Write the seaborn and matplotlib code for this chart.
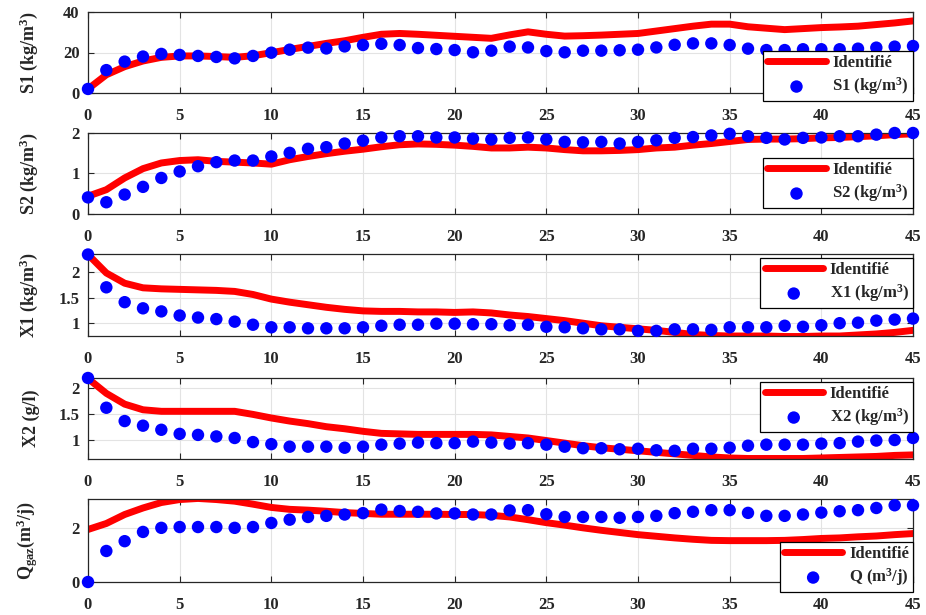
import numpy as np
import pandas as pd
import matplotlib
matplotlib.use("Agg")
import matplotlib.pyplot as plt
import seaborn as sns

t = list(range(46))

s1_ident = [2, 9, 13, 15.8, 17.6, 18.3, 18.3, 18, 17.6, 18.4, 19.9, 21.5, 23, 24.5, 25.8, 27.5,
            29, 29.4, 29, 28.5, 28, 27.5, 27, 28.7, 30.2, 29, 28.1, 28.3, 28.6, 29, 29.4, 30.6,
            31.8, 33, 34, 34, 32.7, 32, 31.3, 31.8, 32.3, 32.6, 33, 33.8, 34.6, 35.6]
s1_meas = [2, 11.3, 15.5, 18, 19.3, 18.8, 18.3, 17.8, 17.1, 18.3, 19.9, 21.4, 22.4, 22, 23, 23.7,
           24.3, 23.7, 22.2, 21.7, 21.2, 20.1, 20.9, 22.9, 22.5, 20.7, 20.1, 20.9, 20.9, 21.1, 21.4,
           22.5, 23.8, 24.5, 24.5, 23.7, 21.9, 21.2, 21.2, 21.6, 21.6, 21.6, 21.9, 22.4, 22.9, 23.2]

s2_ident = [0.44, 0.6, 0.89, 1.12, 1.26, 1.32, 1.34, 1.3, 1.28, 1.26, 1.23, 1.34, 1.42, 1.49, 1.55,
            1.6, 1.66, 1.71, 1.73, 1.72, 1.7, 1.67, 1.63, 1.63, 1.65, 1.63, 1.59, 1.56, 1.56, 1.57,
            1.59, 1.63, 1.65, 1.7, 1.74, 1.79, 1.84, 1.85, 1.85, 1.86, 1.88, 1.89, 1.91, 1.93, 1.96, 1.98]
s2_meas = [0.41, 0.29, 0.48, 0.67, 0.89, 1.05, 1.18, 1.28, 1.32, 1.32, 1.42, 1.51, 1.61, 1.65, 1.74,
           1.81, 1.89, 1.92, 1.92, 1.89, 1.89, 1.86, 1.84, 1.88, 1.89, 1.84, 1.78, 1.77, 1.78, 1.74,
           1.78, 1.82, 1.88, 1.9, 1.94, 1.98, 1.92, 1.88, 1.84, 1.88, 1.89, 1.92, 1.92, 1.96, 2.0, 2.0]

x1_ident = [2.34, 1.98, 1.78, 1.69, 1.67, 1.66, 1.65, 1.64, 1.62, 1.56, 1.47, 1.41, 1.36, 1.31, 1.27,
            1.24, 1.23, 1.23, 1.22, 1.22, 1.21, 1.22, 1.2, 1.16, 1.13, 1.09, 1.05, 1.0, 0.95, 0.92,
            0.89, 0.86, 0.82, 0.78, 0.76, 0.75, 0.75, 0.75, 0.74, 0.74, 0.75, 0.75, 0.77, 0.79, 0.82, 0.86]
x1_meas = [2.34, 1.7, 1.41, 1.29, 1.23, 1.15, 1.11, 1.08, 1.03, 0.97, 0.92, 0.92, 0.9, 0.9, 0.9,
           0.92, 0.95, 0.97, 0.97, 0.99, 0.99, 0.98, 0.98, 0.96, 0.97, 0.93, 0.92, 0.9, 0.88, 0.88,
           0.85, 0.85, 0.88, 0.88, 0.87, 0.92, 0.92, 0.92, 0.95, 0.93, 0.96, 1.0, 1.01, 1.05, 1.07, 1.09]

x2_ident = [2.19, 1.9, 1.69, 1.58, 1.55, 1.55, 1.55, 1.55, 1.55, 1.49, 1.42, 1.36, 1.31, 1.25, 1.21,
            1.16, 1.12, 1.11, 1.1, 1.1, 1.1, 1.1, 1.09, 1.06, 1.03, 0.98, 0.93, 0.88, 0.84, 0.81,
            0.78, 0.75, 0.72, 0.69, 0.66, 0.64, 0.63, 0.63, 0.63, 0.63, 0.64, 0.65, 0.66, 0.67, 0.69, 0.7]
x2_meas = [2.2, 1.62, 1.36, 1.27, 1.19, 1.11, 1.09, 1.06, 1.03, 0.95, 0.91, 0.86, 0.86, 0.86, 0.84,
           0.86, 0.9, 0.92, 0.94, 0.93, 0.93, 0.96, 0.94, 0.92, 0.93, 0.9, 0.86, 0.83, 0.83, 0.81,
           0.82, 0.79, 0.78, 0.82, 0.82, 0.84, 0.88, 0.9, 0.9, 0.9, 0.92, 0.93, 0.96, 0.98, 0.99, 1.03]

q_ident = [1.93, 2.15, 2.48, 2.72, 2.92, 3.03, 3.07, 3.03, 2.97, 2.86, 2.74, 2.67, 2.64, 2.6, 2.55,
           2.52, 2.49, 2.49, 2.49, 2.49, 2.48, 2.48, 2.45, 2.39, 2.29, 2.18, 2.09, 1.99, 1.9, 1.82,
           1.74, 1.68, 1.62, 1.57, 1.53, 1.52, 1.52, 1.52, 1.53, 1.56, 1.6, 1.62, 1.66, 1.69, 1.74, 1.78]
q_meas = [0, 1.14, 1.5, 1.84, 1.99, 2.02, 2.02, 2.02, 1.99, 2.02, 2.17, 2.29, 2.39, 2.43, 2.48,
          2.53, 2.66, 2.61, 2.58, 2.52, 2.52, 2.48, 2.48, 2.63, 2.64, 2.49, 2.39, 2.39, 2.39, 2.36,
          2.39, 2.43, 2.53, 2.58, 2.64, 2.64, 2.54, 2.43, 2.43, 2.48, 2.55, 2.6, 2.64, 2.72, 2.82, 2.82]

ylabels = [r"S1 (kg/m$^{3}$)", r"S2 (kg/m$^{3}$)", r"X1 (kg/m$^{3}$)", r"X2 (g/l)",
           r"Q$_{\mathrm{gaz}}$(m$^{3}$/j)"]
meas_labels = [r"S1 (kg/m$^{3}$)", r"S2 (kg/m$^{3}$)", r"X1 (kg/m$^{3}$)", r"X2 (kg/m$^{3}$)",
               r"Q (m$^{3}$/j)"]
ident_label = "Identifié"
xticks = [0, 5, 10, 15, 20, 25, 30, 35, 40, 45]
yticks = [[0, 20, 40], [0, 1, 2], [1, 1.5, 2], [1, 1.5, 2], [0, 2]]
yticklabels = [["0", "20", "40"], ["0", "1", "2"], ["1", "1.5", "2"], ["1", "1.5", "2"], ["0", "2"]]
ylims = [(0, 40), (0, 2), (0.75, 2.35), (0.62, 2.2), (0, 3.05)]

sns.set_style("ticks")
plt.rcParams["font.family"] = ["Liberation Serif", "DejaVu Serif"]
plt.rcParams["font.weight"] = "bold"
plt.rcParams["mathtext.fontset"] = "custom"
plt.rcParams["mathtext.rm"] = "Liberation Serif:bold"
plt.rcParams["mathtext.bf"] = "Liberation Serif:bold"
plt.rcParams["mathtext.it"] = "Liberation Serif:bold"
plt.rcParams["mathtext.default"] = "rm"

W, H = 926, 615
fig = plt.figure(figsize=(W / 100, H / 100), dpi=100)

# panel pixel extents (top, bottom)
panels_px = [(12, 93), (133, 214), (254, 336), (378, 459), (499, 582)]
# legend anchor (right, top) in pixels
legend_px = [(913, 51), (913, 158), (913, 258), (913, 382), (913, 542)]

series = [(s1_ident, s1_meas), (s2_ident, s2_meas), (x1_ident, x1_meas),
          (x2_ident, x2_meas), (q_ident, q_meas)]

left, right = 88, 913
for i, ((ident, meas), (top, bot)) in enumerate(zip(series, panels_px)):
    ax = fig.add_axes([left / W, 1 - bot / H, (right - left) / W, (bot - top) / H])
    df = pd.DataFrame({"t": t, "ident": ident, "meas": meas})
    sns.lineplot(data=df, x="t", y="ident", ax=ax, color="#ff0000", lw=5,
                 label=ident_label, zorder=2)
    sns.scatterplot(data=df, x="t", y="meas", ax=ax, color="#0000ff", s=80,
                    edgecolor="none", label=meas_labels[i], zorder=3, clip_on=False)
    ax.set_xlim(0, 45)
    ax.set_ylim(*ylims[i])
    ax.set_xticks(xticks)
    ax.set_xticklabels([str(v) for v in xticks])
    ax.set_yticks(yticks[i])
    ax.set_yticklabels(yticklabels[i])
    ax.set_xlabel("")
    ax.set_ylabel(ylabels[i], fontsize=13, fontweight="bold")
    ax.yaxis.set_label_coords(-0.058, 0.5)
    ax.grid(True, color="#e3e3e3", lw=0.8)
    ax.set_axisbelow(True)
    ax.tick_params(direction="in", top=True, right=True, length=4, width=0.8,
                   labelsize=12, colors="#262626")
    ax.tick_params(axis="x", pad=11)
    ax.tick_params(axis="y", pad=6)
    for tl in ax.get_xticklabels() + ax.get_yticklabels():
        tl.set_fontweight("bold")
    for sp in ax.spines.values():
        sp.set_color("#262626")
        sp.set_linewidth(0.9)
    rx, ty = legend_px[i]
    leg = ax.legend(loc="upper right", bbox_to_anchor=(rx / W, 1 - ty / H),
                    bbox_transform=fig.transFigure, fancybox=False, edgecolor="black",
                    framealpha=1, borderaxespad=0, handlelength=3.5,
                    prop={"weight": "bold", "size": 12}, borderpad=0.25,
                    labelspacing=0.25, handletextpad=0.4)
    leg.get_frame().set_linewidth(0.9)
    leg.set_zorder(10)

fig.savefig("out.png", dpi=100)
